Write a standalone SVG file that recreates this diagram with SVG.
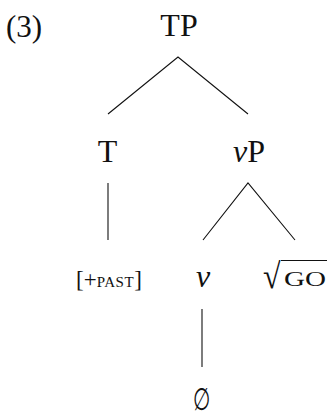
<svg xmlns="http://www.w3.org/2000/svg" width="327" height="418" viewBox="0 0 327 418">
<style>
text{font-family:"Liberation Serif","Times New Roman",serif;fill:#111;}
.n{font-size:32px;text-anchor:middle;}
.e{stroke:#111;stroke-width:1.1;fill:none;}
</style>
<rect width="327" height="418" fill="#fff"/>
<text x="6" y="37" font-size="31">(3)</text>
<g id="edges">
<path class="e" d="M108 114L178 57L248 114"/>
<path class="e" d="M108 183V240"/>
<path class="e" d="M203 240L248 183L295 240"/>
<path class="e" d="M202 309V367"/>
</g>
<g id="TP"><text class="n" x="179" y="36">TP</text></g>
<g id="T"><text class="n" x="107.5" y="162">T</text></g>
<g id="vP"><text class="n" x="249" y="162"><tspan font-style="italic">v</tspan>P</text></g>
<g id="past"><text x="109" y="287" text-anchor="middle" font-size="23">[+<tspan font-size="15" letter-spacing="0.6">PAST</tspan>]</text></g>
<g id="v"><text class="n" x="203" y="287" font-style="italic">v</text></g>
<g id="go"><text x="0" y="0" font-size="32" font-family="DejaVu Serif" transform="translate(263 288) scale(1 1.12)">√</text><line class="e" x1="281" y1="260.5" x2="327" y2="260.5"/><text x="284" y="286" font-size="21" textLength="42" lengthAdjust="spacingAndGlyphs">GO</text></g>
<g id="empty"><text x="0" y="0" text-anchor="middle" font-size="31" font-family="DejaVu Serif" transform="translate(202 410) scale(0.64 1)">∅</text></g>
</svg>
